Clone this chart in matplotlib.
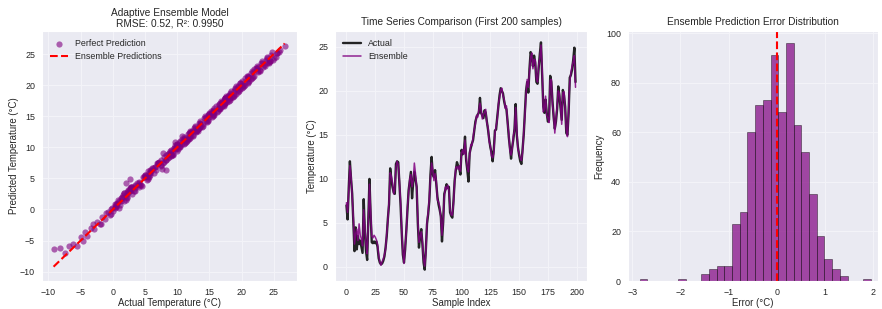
import numpy as np
import matplotlib
matplotlib.use("Agg")
import matplotlib.pyplot as plt
import seaborn as sns

# ---------------- data ----------------
actual = [7.0, 5.4, 9.0, 12.0, 10.0, 8.3, 5.0, 1.8, 4.5, 2.0,
          3.5, 2.6, 3.0, 2.3, 1.6, 7.7, 4.0, 1.8, 0.8, 5.5,
          10.0, 6.0, 2.8, 2.7, 2.9, 2.7, 2.9, 2.3, 1.0, 0.5,
          0.3, 0.4, 0.7, 1.2, 2.2, 3.5, 5.5, 7.1, 11.2, 10.0,
          9.1, 8.5, 8.3, 11.7, 12.0, 11.9, 9.5, 7.1, 4.0, 1.4,
          0.5, 2.0, 4.1, 6.5, 8.7, 9.8, 10.8, 7.8, 9.6, 10.8,
          10.0, 9.1, 5.0, 2.2, 3.5, 4.3, 2.6, 0.5, -0.3, 2.0,
          4.9, 6.0, 7.5, 10.5, 12.5, 10.5, 10.2, 11.0, 9.5, 8.0,
          7.1, 6.5, 5.8, 2.9, 5.0, 8.3, 8.8, 9.4, 9.0, 9.1,
          6.2, 5.8, 5.6, 7.5, 9.8, 11.0, 11.9, 11.5, 11.2, 10.5,
          13.3, 12.8, 13.1, 14.8, 12.1, 11.0, 9.7, 12.9, 13.5, 14.0,
          14.4, 15.5, 16.5, 17.0, 17.3, 17.5, 19.2, 17.5, 17.2, 16.9,
          17.8, 17.5, 16.5, 15.6, 14.5, 13.6, 13.0, 12.0, 13.3, 15.5,
          15.6, 17.0, 18.2, 19.5, 20.3, 20.0, 19.7, 18.8, 18.2, 17.9,
          16.5, 14.8, 13.5, 12.3, 13.6, 14.5, 15.7, 18.5, 15.0, 13.6,
          12.7, 12.0, 11.7, 13.3, 15.0, 17.5, 20.0, 21.0, 19.8, 22.5,
          24.4, 24.0, 22.8, 24.0, 23.2, 21.0, 20.8, 22.6, 24.2, 25.5,
          22.0, 18.2, 17.5, 19.0, 17.5, 16.5, 16.7, 21.7, 21.0, 18.8,
          17.0, 15.7, 16.5, 17.9, 20.5, 19.4, 18.0, 16.7, 20.1, 19.5,
          18.2, 15.2, 15.0, 17.5, 21.5, 21.8, 22.4, 23.5, 24.9, 21.0]

ensemble = [7.3, 6.2, 8.6, 11.5, 10.3, 8.0, 5.6, 2.6, 3.8, 4.3,
            3.0, 4.9, 3.6, 3.2, 2.4, 6.5, 4.5, 2.6, 1.5, 4.9,
            9.4, 6.4, 3.5, 3.3, 3.6, 3.4, 3.1, 2.6, 1.4, 0.6,
            0.2, 0.6, 0.9, 1.4, 2.0, 3.8, 5.3, 7.5, 10.7, 10.3,
            9.6, 8.3, 8.8, 11.3, 12.0, 11.6, 9.9, 7.4, 4.3, 1.8,
            0.4, 2.3, 3.9, 6.8, 8.4, 10.0, 10.5, 9.1, 9.8, 11.8,
            10.6, 9.0, 5.5, 2.8, 3.4, 4.0, 2.9, 0.9, 0.1, 1.6,
            5.2, 6.2, 7.9, 10.2, 11.8, 11.0, 9.8, 10.6, 9.9, 7.6,
            7.4, 6.9, 5.5, 3.6, 5.3, 8.0, 9.1, 8.8, 9.3, 8.7,
            6.6, 5.9, 5.9, 7.2, 9.7, 11.3, 11.4, 11.1, 11.5, 10.9,
            12.9, 13.3, 12.8, 14.4, 12.5, 11.3, 10.8, 12.6, 13.9, 13.8,
            14.7, 15.6, 16.2, 17.2, 17.0, 17.8, 18.6, 17.9, 16.8, 17.3,
            17.6, 17.9, 16.3, 15.9, 14.2, 13.8, 12.6, 12.4, 12.9, 15.2,
            16.0, 16.7, 18.5, 19.2, 20.1, 20.3, 19.4, 19.1, 18.0, 18.3,
            16.3, 15.2, 13.2, 12.7, 13.4, 14.9, 15.5, 18.1, 15.4, 13.3,
            13.0, 12.3, 12.1, 13.0, 15.3, 17.1, 19.6, 21.3, 20.4, 22.2,
            23.8, 24.3, 22.5, 23.6, 23.5, 21.4, 21.0, 22.9, 23.7, 25.2,
            22.6, 17.6, 17.9, 19.4, 17.2, 16.9, 16.4, 21.2, 21.3, 18.4,
            17.3, 15.2, 16.8, 18.2, 20.0, 19.7, 18.3, 16.2, 19.8, 19.9,
            18.0, 15.5, 14.8, 17.8, 21.0, 22.1, 22.8, 23.3, 24.0, 20.4]

# further test-set points (actual, predicted)
extra_actual = [-9.2, -8.2, -6.8, -6.2, -5.6, -4.3, -4.0, -3.4, -2.9, -2.4,
                -2.0, -1.6, -1.2, -0.8, -0.5, -0.2, 0.1, 0.6, 1.1, 1.5,
                2.2, 2.7, 3.3, 3.8, 4.4, 5.0, 5.6, 6.1, 6.7, 7.2,
                7.8, 8.3, 8.6, 9.2, 9.7, 10.3, 10.8, 11.3, 11.8, 12.2,
                12.6, 13.0, 13.4, 13.8, 14.2, 14.6, 15.0, 15.4, 15.8, 16.2,
                16.6, 17.0, 17.4, 17.8, 18.2, 18.6, 19.0, 19.4, 19.8, 20.2,
                20.6, 21.0, 21.4, 21.8, 22.2, 22.6, 23.0, 23.4, 23.8, 24.2,
                24.6, 25.0, 25.5, 26.0, 26.7,
                -7.5, -5.0, -4.6, -3.0, -1.8, -1.0, -0.3, 0.4, 0.9, 1.3,
                1.8, 2.4, 3.0, 3.5, 4.1, 4.7, 5.3, 5.8, 6.4, 6.9,
                7.5, 8.0, 8.9, 9.4, 10.0, 10.5, 11.0, 11.5, 12.0, 12.4,
                12.8, 13.2, 13.6, 14.0, 14.4, 14.8, 15.2, 15.6, 16.0, 16.4,
                16.8, 17.2, 17.6, 18.0, 18.4, 18.8, 19.2, 19.6, 20.0, 20.4,
                20.8, 21.2, 21.6, 22.0, 22.4, 22.8, 23.2, 23.6, 24.0, 24.4,
                24.8, 25.3, 25.8]
extra_pred = [-6.4, -6.2, -5.9, -5.6, -5.8, -3.6, -4.3, -2.9, -3.2, -2.0,
              -2.4, -1.2, -1.5, -0.4, -0.9, 0.3, -0.3, 1.0, 0.7, 2.0,
              1.8, 3.1, 2.9, 4.3, 4.0, 5.4, 5.2, 6.6, 6.3, 7.7,
              7.4, 6.4, 9.0, 8.7, 10.3, 10.0, 11.4, 10.8, 12.3, 11.8,
              13.1, 12.5, 13.9, 13.3, 14.7, 14.1, 15.5, 14.9, 16.3, 15.7,
              17.1, 16.6, 17.9, 17.3, 18.7, 18.1, 19.5, 18.9, 20.3, 19.7,
              21.1, 20.5, 21.9, 21.3, 22.7, 22.1, 23.5, 22.9, 24.1, 23.6,
              24.9, 24.3, 25.2, 25.7, 26.3,
              -7.0, -4.4, -5.0, -2.4, -2.3, -0.5, -0.8, 0.9, 0.3, 1.8,
              1.3, 2.9, 2.5, 4.0, 3.6, 5.2, 4.8, 6.3, 5.9, 7.4,
              7.0, 8.5, 9.4, 8.9, 10.6, 10.0, 11.6, 11.0, 12.6, 11.9,
              13.4, 12.6, 14.2, 13.4, 15.0, 14.2, 15.8, 15.0, 16.6, 15.9,
              17.4, 16.7, 18.2, 17.4, 19.0, 18.2, 19.8, 19.0, 20.6, 19.8,
              21.4, 20.6, 22.2, 21.4, 23.0, 22.2, 23.8, 23.0, 24.5, 23.8,
              25.3, 24.6, 25.3]

# error histogram (bin counts, left to right)
err_counts = [1, 0, 0, 0, 0, 1, 0, 0, 3, 5,
              6, 6, 23, 28, 60, 71, 73, 91, 68, 96,
              63, 52, 35, 18, 9, 5, 2, 0, 0, 1]
err_lo, err_hi = -2.85, 1.95

# ---------------- style ----------------
sns.set_style("darkgrid", {"grid.color": "#f3f3f8"})
plt.rcParams["font.family"] = ["Liberation Sans", "DejaVu Sans"]

fig = plt.figure(figsize=(8.82, 3.09), dpi=100)
ax1 = fig.add_axes([0.0476, 0.0906, 0.289, 0.809])
ax2 = fig.add_axes([0.3798, 0.0906, 0.2857, 0.809])
ax3 = fig.add_axes([0.712, 0.0906, 0.2834, 0.809])

TFS, LFS, KFS, GFS = 7.3, 6.9, 6.4, 6.4

# ---- panel 1: scatter ----
sc_x = list(actual) + extra_actual
sc_y = list(ensemble) + extra_pred
ax1.scatter(sc_x, sc_y, color="purple", alpha=0.6, s=20, linewidths=0,
            label="Perfect Prediction")
lo, hi = min(sc_x), max(sc_x)
ax1.plot([lo, hi], [lo, hi], "r--", lw=1.5, label="Ensemble Predictions")
ax1.set_xlim(-11.0, 28.6)
ax1.set_ylim(-11.5, 28.7)
ax1.set_xticks(np.arange(-10, 26, 5))
ax1.set_yticks(np.arange(-10, 26, 5))
ax1.set_xlabel("Actual Temperature (°C)", fontsize=LFS, labelpad=1)
ax1.set_ylabel("Predicted Temperature (°C)", fontsize=LFS, labelpad=1)
ax1.set_title("Adaptive Ensemble Model\nRMSE: 0.52, R²: 0.9950", fontsize=TFS, pad=3,
              linespacing=1.1)
ax1.legend(loc="upper left", fontsize=GFS, frameon=False)

# ---- panel 2: time series ----
idx = np.arange(len(actual))
ax2.plot(idx, actual, color="black", lw=1.7, alpha=0.85, label="Actual")
ax2.plot(idx, ensemble, color="purple", lw=1.1, alpha=0.85, label="Ensemble")
ax2.set_xticks(np.arange(0, 201, 25))
ax2.set_yticks(np.arange(0, 26, 5))
ax2.set_xlabel("Sample Index", fontsize=LFS, labelpad=1)
ax2.set_ylabel("Temperature (°C)", fontsize=LFS, labelpad=1)
ax2.set_title("Time Series Comparison (First 200 samples)", fontsize=TFS, pad=4)
ax2.legend(loc="upper left", fontsize=GFS, frameon=False)

# ---- panel 3: histogram ----
edges = np.linspace(err_lo, err_hi, len(err_counts) + 1)
centers = 0.5 * (edges[:-1] + edges[1:])
ax3.hist(centers, bins=edges, weights=err_counts, color="purple", alpha=0.7,
         edgecolor="black", linewidth=0.4)
ax3.axvline(0, color="red", ls="--", lw=1.5)
ax3.set_xlim(-3.09, 2.1)
ax3.set_xticks(np.arange(-3, 3, 1))
ax3.set_yticks(np.arange(0, 101, 20))
ax3.set_xlabel("Error (°C)", fontsize=LFS, labelpad=1)
ax3.set_ylabel("Frequency", fontsize=LFS, labelpad=1)
ax3.set_title("Ensemble Prediction Error Distribution", fontsize=TFS, pad=4)

for ax in (ax1, ax2, ax3):
    ax.tick_params(labelsize=KFS, pad=1.5)

fig.savefig("out.png", dpi=100)
